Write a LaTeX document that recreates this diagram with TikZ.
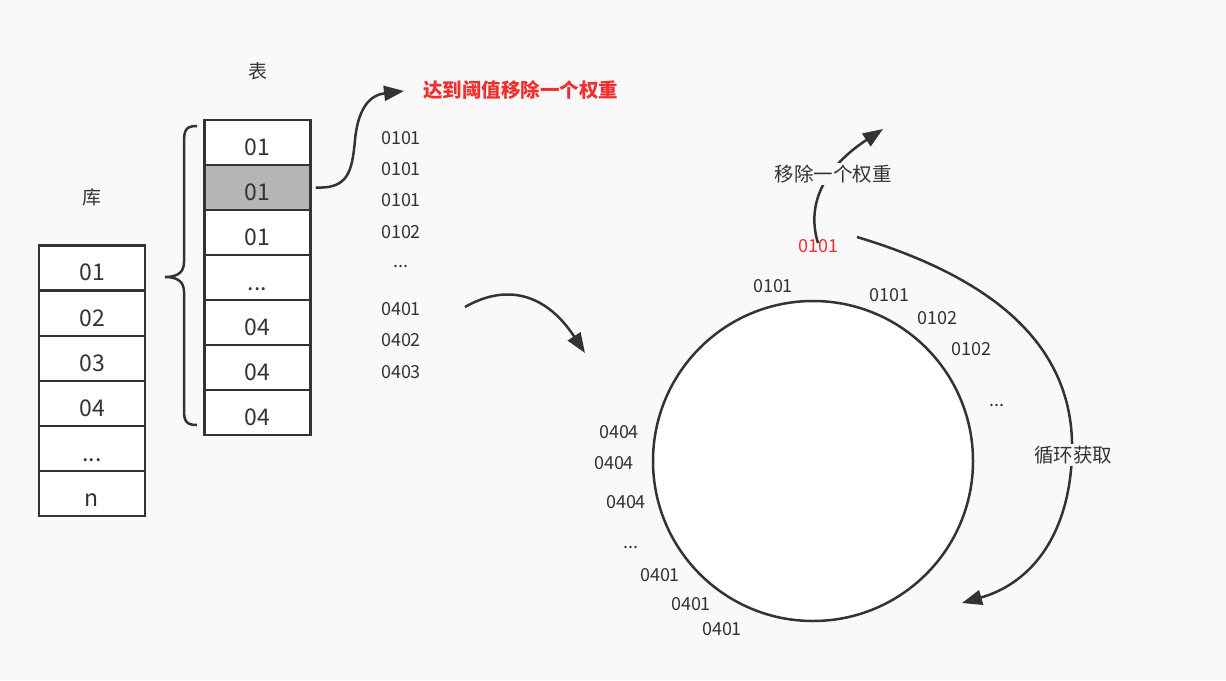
\documentclass[tikz,border=0pt]{standalone}
\usepackage{fontspec}
\setmainfont{Noto Sans CJK SC}
\usetikzlibrary{arrows.meta}
\definecolor{ink}{HTML}{333333}
\definecolor{bg}{HTML}{F9F9F9}
\definecolor{hot}{HTML}{F0302E}
\definecolor{shade}{HTML}{B5B5B5}
\newcommand{\dotsx}{\vphantom{0}...}
\begin{document}
\begin{tikzpicture}[x=1pt,y=-1pt,line width=2.5pt,
  cell/.style={draw=ink,fill=white,minimum width=106pt,minimum height=45pt,inner sep=0pt,text=ink,text height=25pt,text depth=0pt,font=\fontsize{23}{26}\selectfont},
  lbl/.style={text=ink,inner sep=1pt,font=\fontsize{18}{21}\selectfont},
  ttl/.style={text=ink,inner sep=1pt,font=\fontsize{19}{22}\selectfont},
  note/.style={text=ink,fill=bg,inner sep=2pt,font=\fontsize{19.5}{22}\selectfont},
  arr/.style={draw=ink,line width=2.5pt,-{Triangle[length=20pt,width=15pt]}}]
\fill[bg] (0,0) rectangle (1226,680);
\useasboundingbox (0,0) rectangle (1226,680);
% library table
\node[ttl] (libt) at (92,197) {库};
\node[cell] (l1) at (92,268) {01};
\node[cell] (l2) at (92,313.5) {02};
\node[cell] (l3) at (92,358.5) {03};
\node[cell] (l4) at (92,403.5) {04};
\node[cell] (l5) at (92,448.5) {...};
\node[cell] (l6) at (92,493.5) {n};
% table
\node[ttl] (tabt) at (258,71) {表};
\node[cell] (t1) at (257.5,142.5) {01};
\node[cell,fill=shade] (t2) at (257.5,187.5) {01};
\node[cell] (t3) at (257.5,232.5) {01};
\node[cell] (t4) at (257.5,277.5) {...};
\node[cell] (t5) at (257.5,322.5) {04};
\node[cell] (t6) at (257.5,367.5) {04};
\node[cell] (t7) at (257.5,412.5) {04};
% brace
\draw[ink,line width=2.5pt] (197,126) .. controls (186,126) and (184,130) .. (184,142)
  -- (184,262) .. controls (184,272) and (178,277) .. (165,277)
  .. controls (178,277) and (184,282) .. (184,292)
  -- (184,410) .. controls (184,421) and (186,425) .. (197,425);
% list
\node[lbl] (a1) at (401,138) {0101};
\node[lbl] (a2) at (401,169) {0101};
\node[lbl] (a3) at (401,200) {0101};
\node[lbl] (a4) at (401,232) {0102};
\node[lbl] (a5) at (401,261) {\dotsx};
\node[lbl] (a6) at (401,309) {0401};
\node[lbl] (a7) at (401,340) {0402};
\node[lbl] (a8) at (401,372) {0403};
% red note
\node[text=hot,inner sep=1pt,font=\fontsize{19.5}{22}\selectfont\bfseries,anchor=west] (thr) at (421,90) {达到阈值移除一个权重};
\coordinate (tipA) at (404,91);
\draw[arr] ([xshift=4pt]t2.east) .. controls (348,189) and (352,172) .. (355,140)
  .. controls (358,108) and (370,95) .. (tipA);
% arrow to ring
\coordinate (s2) at (465,307);
\coordinate (tipB) at (585,353);
\draw[arr] (s2) .. controls (505,284) and (545,292) .. (tipB);
% ring
\node[circle,draw=ink,fill=white,minimum size=320pt,inner sep=0pt] (ring) at (813,461) {};
\node[lbl] (c1) at (773,286) {0101};
\node[lbl] (c2) at (889,295) {0101};
\node[lbl] (c3) at (937,318) {0102};
\node[lbl] (c4) at (971,349) {0102};
\node[lbl] (c5) at (997,400) {\dotsx};
\node[lbl] (c6) at (619,432) {0404};
\node[lbl] (c7) at (614,463) {0404};
\node[lbl] (c8) at (626,502) {0404};
\node[lbl] (c9) at (631,542) {\dotsx};
\node[lbl] (c10) at (660,575) {0401};
\node[lbl] (c11) at (691,604) {0401};
\node[lbl] (c12) at (722,629) {0401};
% removed item
\node[text=hot,inner sep=1pt,font=\fontsize{18}{21}\selectfont] (red) at (818,246) {0101};
\coordinate (tipC) at (883,129);
\draw[arr] ([yshift=-6pt]red.north) .. controls (806,204) and (824,168) .. (tipC);
\node[note] (rm) at (833,174) {移除一个权重};
% cycle arrow
\coordinate (s4) at (857,237);
\coordinate (tipD) at (962,603);
\draw[arr] (s4) .. controls (1000,280) and (1075,350) .. (1072,453)
  .. controls (1070,530) and (1035,582) .. (tipD);
\node[note] (cyc) at (1073,455) {循环获取};
\end{tikzpicture}
\end{document}
